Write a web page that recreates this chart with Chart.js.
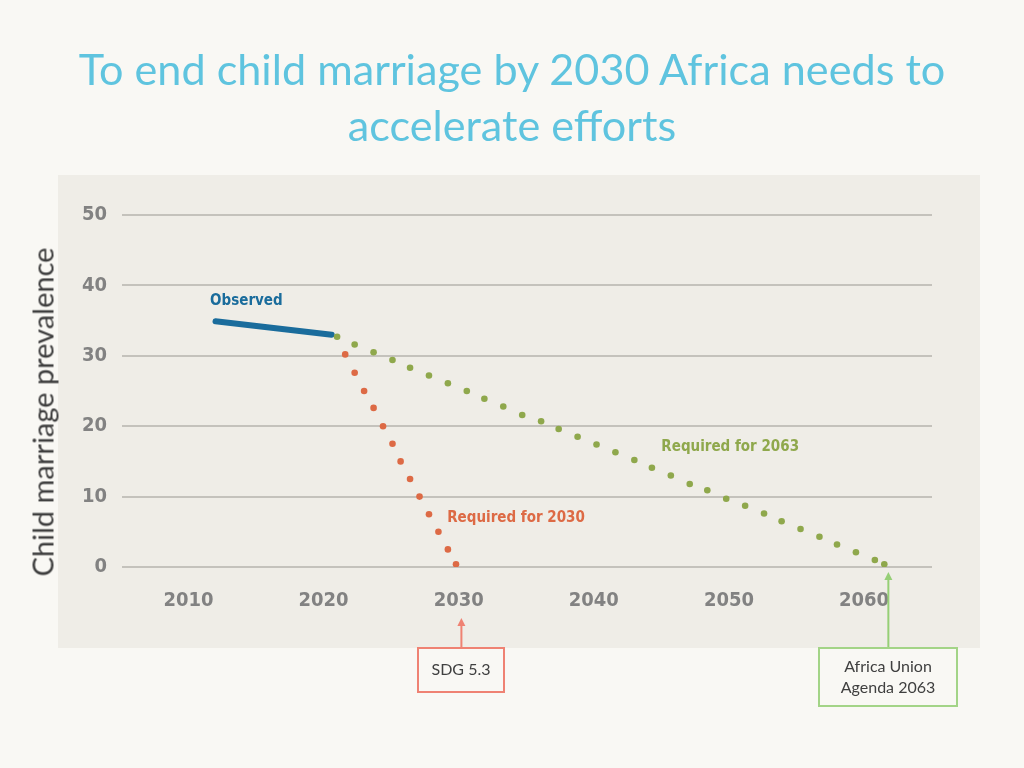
<!DOCTYPE html>
<html>
<head>
  <title>Child marriage in Africa</title>
  <script src="https://cdn.jsdelivr.net/npm/chart.js"></script>
  <style>
    body {
      margin: 0;
      width: 1024px;
      height: 768px;
      overflow: hidden;
      position: relative;
      background: #f9f8f4;
      font-family: Lato, "Open Sans", sans-serif;
    }
    .title {
      position: absolute;
      left: 0;
      width: 1024px;
      text-align: center;
      color: #5fc4df;
      font-size: 43.2px;
      line-height: 1;
      white-space: nowrap;
    }
    #t1 { top: 47px; }
    #t2 { top: 103px; }
    .ylab {
      position: absolute;
      left: 42px;
      top: 412px;
      transform: translate(-50%, -50%) rotate(-90deg);
      white-space: nowrap;
      font-size: 29px;
      color: #3d3d3d;
    }
    #wrap {
      position: absolute;
      left: 0;
      top: 0;
      width: 1024px;
      height: 768px;
    }
  </style>
</head>
<body>
  <div id="wrap"><canvas id="chart" width="1024" height="768"></canvas></div>
  <div class="title" id="t1">To end child marriage by 2030 Africa needs to</div>
  <div class="title" id="t2">accelerate efforts</div>
  <div class="ylab">Child marriage prevalence</div>

  <script>
    const xTicks = [2010, 2020, 2030, 2040, 2050, 2060];
    const yTicks = [0, 10, 20, 30, 40, 50];

    // observed trend
    const observedYears = [2012.0, 2020.6];
    const observedValues = [34.9, 33.0];

    // dots needed to reach zero by 2030
    const req2030Years = [2021.6, 2022.3, 2023.0, 2023.7, 2024.4, 2025.1, 2025.7, 2026.4, 2027.1, 2027.8, 2028.5, 2029.2, 2029.8];
    const req2030Values = [30.2, 27.6, 25.0, 22.6, 20.0, 17.5, 15.0, 12.5, 10.0, 7.5, 5.0, 2.5, 0.4];

    // dots needed to reach zero by 2063
    const req2063Years = [2021.0, 2022.3, 2023.7, 2025.1, 2026.4, 2027.8, 2029.2, 2030.6, 2031.9, 2033.3, 2034.7, 2036.1, 2037.4, 2038.8, 2040.2, 2041.6, 2043.0, 2044.3, 2045.7, 2047.1, 2048.4, 2049.8, 2051.2, 2052.6, 2053.9, 2055.3, 2056.7, 2058.0, 2059.4, 2060.8, 2061.5];
    const req2063Values = [32.7, 31.6, 30.5, 29.4, 28.3, 27.2, 26.1, 25.0, 23.9, 22.8, 21.6, 20.7, 19.6, 18.5, 17.4, 16.3, 15.2, 14.1, 13.0, 11.8, 10.9, 9.7, 8.7, 7.6, 6.5, 5.4, 4.3, 3.2, 2.1, 1.0, 0.4];

    const BLUE = '#1a6c9c';
    const GREEN = '#8fa84c';
    const RED = '#dd6a45';
    const tickFont = { family: '"DejaVu Sans Condensed", sans-serif', size: 20, weight: 'bold' };
    const labelFont = 'bold 15px "DejaVu Sans Condensed", sans-serif';

    function toPoints(xs, ys) {
      return xs.map((x, i) => ({ x: x, y: ys[i] }));
    }

    // grey panel behind the plot
    const panelPlugin = {
      id: 'panel',
      beforeDraw(chart) {
        const ctx = chart.ctx;
        ctx.save();
        ctx.fillStyle = '#efede7';
        ctx.fillRect(58, 175, 922, 473);
        ctx.restore();
      }
    };

    // series labels, call-out boxes and arrows
    const notesPlugin = {
      id: 'notes',
      afterDraw(chart) {
        const ctx = chart.ctx;
        const xs = chart.scales.x, ys = chart.scales.y;
        ctx.save();
        ctx.font = labelFont;
        ctx.textBaseline = 'middle';
        ctx.textAlign = 'left';
        ctx.fillStyle = BLUE;
        ctx.fillText('Observed', xs.getPixelForValue(2011.6), ys.getPixelForValue(37.8));
        ctx.fillStyle = RED;
        ctx.fillText('Required for 2030', xs.getPixelForValue(2029.15), ys.getPixelForValue(6.9));
        ctx.fillStyle = GREEN;
        ctx.fillText('Required for 2063', xs.getPixelForValue(2045.0), ys.getPixelForValue(17.0));

        function arrow(x, yTop, yBottom, color) {
          ctx.strokeStyle = color;
          ctx.fillStyle = color;
          ctx.lineWidth = 2;
          ctx.beginPath();
          ctx.moveTo(x, yBottom);
          ctx.lineTo(x, yTop + 6);
          ctx.stroke();
          ctx.beginPath();
          ctx.moveTo(x, yTop);
          ctx.lineTo(x - 4, yTop + 8);
          ctx.lineTo(x + 4, yTop + 8);
          ctx.closePath();
          ctx.fill();
        }

        function box(x, y, w, h, color, lines) {
          ctx.fillStyle = '#f9f8f4';
          ctx.fillRect(x, y, w, h);
          ctx.strokeStyle = color;
          ctx.lineWidth = 2;
          ctx.strokeRect(x, y, w, h);
          ctx.fillStyle = '#404040';
          ctx.font = '16px Lato, "Open Sans", sans-serif';
          ctx.textAlign = 'center';
          ctx.textBaseline = 'middle';
          const lh = 21;
          const y0 = y + h / 2 - (lines.length - 1) * lh / 2;
          lines.forEach((t, i) => ctx.fillText(t, x + w / 2, y0 + i * lh));
        }

        const sdgX = xs.getPixelForValue(2030.2);
        arrow(sdgX, 618, 648, '#ef8273');
        box(418, 648, 86, 44, '#ef8273', ['SDG 5.3']);

        const auX = xs.getPixelForValue(2061.8);
        arrow(auX, 572, 648, '#96cf76');
        box(819, 648, 138, 58, '#a3d487', ['Africa Union', 'Agenda 2063']);
        ctx.restore();
      }
    };

    new Chart(document.getElementById('chart'), {
      type: 'scatter',
      data: {
        datasets: [
          {
            label: 'Required for 2063',
            data: toPoints(req2063Years, req2063Values),
            showLine: false,
            pointRadius: 3.3,
            pointBackgroundColor: GREEN,
            pointBorderWidth: 0
          },
          {
            label: 'Required for 2030',
            data: toPoints(req2030Years, req2030Values),
            showLine: false,
            pointRadius: 3.3,
            pointBackgroundColor: RED,
            pointBorderWidth: 0
          },
          {
            label: 'Observed',
            data: toPoints(observedYears, observedValues),
            showLine: true,
            borderColor: BLUE,
            borderWidth: 6,
            borderCapStyle: 'round',
            pointRadius: 0
          }
        ]
      },
      options: {
        responsive: false,
        animation: false,
        layout: { padding: { left: 0, right: 92, top: 215, bottom: 161 } },
        plugins: {
          legend: { display: false },
          tooltip: { enabled: false }
        },
        scales: {
          x: {
            type: 'linear',
            min: 2005.08,
            max: 2065.03,
            afterFit(scale) { scale.height = 40; },
            afterBuildTicks(scale) { scale.ticks = xTicks.map(v => ({ value: v })); },
            grid: { display: false, drawTicks: false },
            border: { display: false },
            ticks: {
              font: tickFont,
              color: '#828282',
              padding: 22,
              callback: v => String(v)
            }
          },
          y: {
            min: 0,
            max: 50,
            afterFit(scale) { scale.width = 122; },
            afterBuildTicks(scale) { scale.ticks = yTicks.map(v => ({ value: v })); },
            grid: { color: '#c4c2bc', lineWidth: 2, drawTicks: false },
            border: { display: false },
            ticks: {
              font: tickFont,
              color: '#828282',
              padding: 15
            }
          }
        }
      },
      plugins: [panelPlugin, notesPlugin]
    });
  </script>
</body>
</html>
